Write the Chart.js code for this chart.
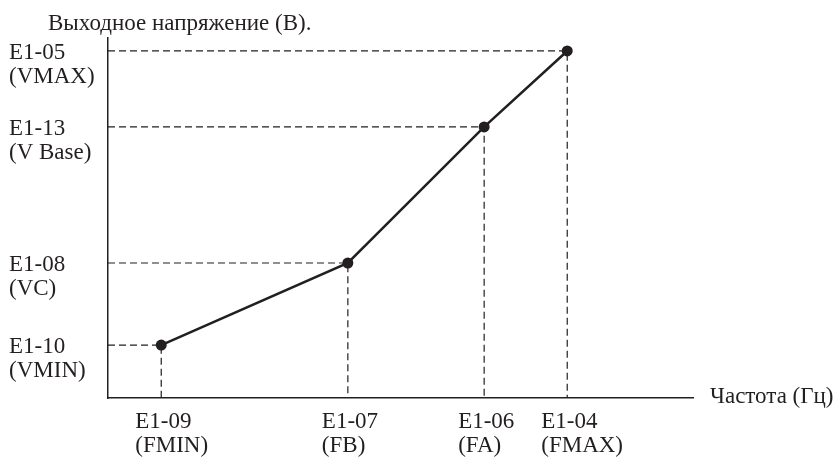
<!DOCTYPE html>
<html>
<head>
<meta charset="utf-8">
<script src="https://cdn.jsdelivr.net/npm/chart.js@4/dist/chart.umd.min.js"></script>
<style>
  html, body { margin: 0; padding: 0; background: #ffffff; }
  #wrap { width: 839px; height: 459px; position: relative; }
</style>
</head>
<body>
<div id="wrap"><canvas id="c"></canvas></div>
<script>
// ---- data (arbitrary 0..100 units on both axes) ----
const freqValues = [9.1, 41.0, 64.3, 78.5];          // FMIN, FB, FA, FMAX
const voltValues = [14.7, 37.5, 75.3, 96.4];         // VMIN, VC, V Base, VMAX
const freqLabels = [["E1-09", "(FMIN)"], ["E1-07", "(FB)"], ["E1-06", "(FA)"], ["E1-04", "(FMAX)"]];
const voltLabels = [["E1-10", "(VMIN)"], ["E1-08", "(VC)"], ["E1-13", "(V Base)"], ["E1-05", "(VMAX)"]];
const yAxisTitle = "Выходное напряжение (В).";
const xAxisTitle = "Частота (Гц)";

const INK = "#231f20";
const FONT = "Liberation Serif";
const FSIZE = 23;
const LH = 1.03;

const mainPoints = freqValues.map((x, i) => ({ x: x, y: voltValues[i] }));

const guideSets = freqValues.map((x, i) => ({
  data: [{ x: 0, y: voltValues[i] }, { x: x, y: voltValues[i] }, { x: x, y: 0 }],
  borderColor: INK,
  borderWidth: 1.2,
  borderDash: [7, 4],
  pointRadius: 0,
  fill: false,
  tension: 0,
  order: 2
}));

const axisTitles = {
  id: "axisTitles",
  afterDraw(chart) {
    const ctx = chart.ctx;
    const a = chart.chartArea;
    ctx.save();
    ctx.fillStyle = INK;
    ctx.font = FSIZE + "px '" + FONT + "'";
    ctx.textAlign = "left";
    ctx.textBaseline = "alphabetic";
    ctx.fillText(yAxisTitle, a.left - 60, a.top - 8);
    ctx.textBaseline = "middle";
    ctx.fillText(xAxisTitle, a.right + 17, a.bottom - 1);
    ctx.restore();
  }
};

new Chart(document.getElementById("c"), {
  type: "line",
  data: {
    datasets: [{
      data: mainPoints,
      borderColor: INK,
      backgroundColor: INK,
      borderWidth: 2.5,
      pointRadius: 5.5,
      pointHoverRadius: 5.5,
      pointBackgroundColor: INK,
      pointBorderWidth: 0,
      fill: false,
      tension: 0,
      order: 1
    }].concat(guideSets)
  },
  options: {
    responsive: true,
    maintainAspectRatio: false,
    animation: false,
    events: [],
    layout: { padding: { left: 9, top: 38, right: 146, bottom: 0 } },
    plugins: { legend: { display: false }, tooltip: { enabled: false }, title: { display: false } },
    scales: {
      x: {
        type: "linear",
        min: 0,
        max: 100,
        grid: { display: false, drawTicks: false },
        border: { display: true, color: INK, width: 1.5 },
        afterBuildTicks: (s) => { s.ticks = freqValues.map(v => ({ value: v })); },
        afterFit: (s) => { s.height = 61; },
        ticks: {
          autoSkip: false,
          maxRotation: 0,
          minRotation: 0,
          align: "start",
          labelOffset: -26,
          padding: 12,
          color: INK,
          font: { family: FONT, size: FSIZE, lineHeight: LH },
          callback: (v, i) => freqLabels[i]
        }
      },
      y: {
        type: "linear",
        min: 0,
        max: 100,
        grid: { display: false, drawTicks: false },
        border: { display: true, color: INK, width: 1.5 },
        afterBuildTicks: (s) => { s.ticks = voltValues.map(v => ({ value: v })); },
        afterFit: (s) => { s.width = 99; },
        ticks: {
          autoSkip: false,
          crossAlign: "far",
          labelOffset: 14,
          padding: 6,
          color: INK,
          font: { family: FONT, size: FSIZE, lineHeight: LH },
          callback: (v, i) => voltLabels[i]
        }
      }
    }
  },
  plugins: [axisTitles]
});
</script>
</body>
</html>
